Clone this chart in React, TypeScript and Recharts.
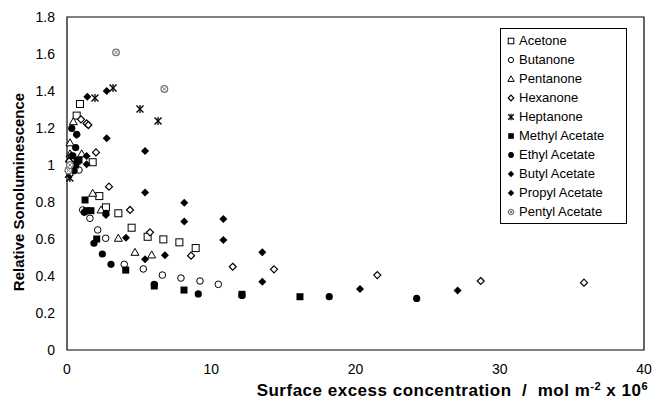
import React from "react";
import {
  ScatterChart,
  Scatter,
  XAxis,
  YAxis,
  ReferenceArea,
} from "recharts";

type Pt = { x: number; y: number };

const acetone: Pt[] = [
  { x: 0.3, y: 1.03 }, { x: 0.55, y: 1.0 }, { x: 0.67, y: 1.267 }, { x: 0.9, y: 1.33 },
  { x: 1.78, y: 1.015 }, { x: 2.24, y: 0.832 }, { x: 2.7, y: 0.771 }, { x: 3.56, y: 0.739 },
  { x: 4.48, y: 0.661 }, { x: 5.59, y: 0.612 }, { x: 6.68, y: 0.598 }, { x: 7.79, y: 0.582 },
  { x: 8.92, y: 0.551 },
];
const butanone: Pt[] = [
  { x: 0.2, y: 0.98 }, { x: 0.5, y: 1.0 }, { x: 0.83, y: 0.973 }, { x: 1.09, y: 0.757 },
  { x: 1.59, y: 0.712 }, { x: 2.13, y: 0.649 }, { x: 2.68, y: 0.604 }, { x: 3.97, y: 0.463 },
  { x: 5.29, y: 0.438 }, { x: 6.61, y: 0.405 }, { x: 7.9, y: 0.389 }, { x: 9.22, y: 0.373 },
  { x: 10.49, y: 0.355 },
];
const pentanone: Pt[] = [
  { x: 0.21, y: 1.06 }, { x: 0.21, y: 1.12 }, { x: 0.44, y: 1.234 }, { x: 1.02, y: 1.06 },
  { x: 1.78, y: 0.847 }, { x: 2.36, y: 0.757 }, { x: 3.56, y: 0.604 }, { x: 4.71, y: 0.528 },
  { x: 5.87, y: 0.514 },
];
const hexanone: Pt[] = [
  { x: 0.15, y: 1.02 }, { x: 0.3, y: 1.05 }, { x: 0.97, y: 1.247 }, { x: 1.36, y: 1.225 },
  { x: 1.48, y: 1.216 }, { x: 2.01, y: 1.068 }, { x: 2.91, y: 0.883 }, { x: 4.37, y: 0.757 },
  { x: 5.75, y: 0.636 }, { x: 8.6, y: 0.51 }, { x: 11.49, y: 0.45 }, { x: 14.35, y: 0.436 },
  { x: 21.51, y: 0.405 }, { x: 28.68, y: 0.373 }, { x: 35.84, y: 0.364 },
];
const heptanone: Pt[] = [
  { x: 0.1, y: 0.95 }, { x: 0.2, y: 0.93 }, { x: 0.15, y: 1.0 }, { x: 1.94, y: 1.362 },
  { x: 3.19, y: 1.416 }, { x: 5.06, y: 1.303 }, { x: 6.31, y: 1.238 },
];
const methylAcetate: Pt[] = [
  { x: 0.6, y: 1.0 }, { x: 0.7, y: 1.02 }, { x: 0.83, y: 1.027 }, { x: 1.25, y: 0.811 },
  { x: 1.36, y: 0.753 }, { x: 1.66, y: 0.753 }, { x: 2.06, y: 0.6 }, { x: 4.07, y: 0.432 },
  { x: 6.05, y: 0.346 }, { x: 8.11, y: 0.324 }, { x: 12.13, y: 0.301 }, { x: 16.15, y: 0.288 },
];
const ethylAcetate: Pt[] = [
  { x: 0.33, y: 1.198 }, { x: 0.67, y: 1.166 }, { x: 0.6, y: 1.094 }, { x: 0.4, y: 1.05 },
  { x: 0.5, y: 0.97 }, { x: 1.2, y: 0.744 }, { x: 2.7, y: 0.739 }, { x: 1.87, y: 0.577 },
  { x: 2.45, y: 0.519 }, { x: 3.05, y: 0.463 }, { x: 6.05, y: 0.355 }, { x: 9.1, y: 0.303 },
  { x: 12.13, y: 0.295 }, { x: 18.18, y: 0.288 }, { x: 24.24, y: 0.279 },
];
const butylAcetate: Pt[] = [
  { x: 0.67, y: 1.162 }, { x: 1.41, y: 1.369 }, { x: 2.75, y: 1.4 }, { x: 2.75, y: 1.144 },
  { x: 5.41, y: 1.076 }, { x: 8.13, y: 0.796 }, { x: 10.84, y: 0.708 }, { x: 13.54, y: 0.528 },
];
const propylAcetate: Pt[] = [
  { x: 1.36, y: 1.049 }, { x: 1.36, y: 1.004 }, { x: 2.7, y: 0.73 }, { x: 4.09, y: 0.607 },
  { x: 5.41, y: 0.852 }, { x: 5.41, y: 0.49 }, { x: 6.79, y: 0.512 }, { x: 8.13, y: 0.694 },
  { x: 10.84, y: 0.595 }, { x: 13.54, y: 0.369 }, { x: 20.31, y: 0.33 }, { x: 27.08, y: 0.321 },
];
const pentylAcetate: Pt[] = [
  { x: 0.1, y: 0.97 }, { x: 0.2, y: 1.0 }, { x: 3.4, y: 1.609 }, { x: 6.75, y: 1.411 },
];

const xTicks = [0, 10, 20, 30, 40];
const yTicks = [0, 0.2, 0.4, 0.6, 0.8, 1, 1.2, 1.4, 1.6, 1.8];

type Kind = "sq" | "circ" | "tri" | "dia" | "star" | "fsq" | "fcirc" | "fdia" | "fdia2" | "pent";

const drawMarker = (kind: Kind, cx: number, cy: number, s = 1) => {
  switch (kind) {
    case "sq":
      return <rect x={cx - 3.5 * s} y={cy - 3.5 * s} width={7 * s} height={7 * s} fill="#fff" stroke="#000" strokeWidth={1} />;
    case "circ":
      return <circle cx={cx} cy={cy} r={3.3 * s} fill="#fff" stroke="#000" strokeWidth={1} />;
    case "tri":
      return (
        <polygon
          points={`${cx},${cy - 4 * s} ${cx + 4 * s},${cy + 3 * s} ${cx - 4 * s},${cy + 3 * s}`}
          fill="#fff" stroke="#000" strokeWidth={1}
        />
      );
    case "dia":
      return (
        <polygon
          points={`${cx},${cy - 3.5 * s} ${cx + 3.5 * s},${cy} ${cx},${cy + 3.5 * s} ${cx - 3.5 * s},${cy}`}
          fill="#fff" stroke="#000" strokeWidth={1.2}
        />
      );
    case "star":
      return (
        <g stroke="#000" strokeWidth={1.3}>
          <line x1={cx - 3.5 * s} y1={cy - 3.5 * s} x2={cx + 3.5 * s} y2={cy + 3.5 * s} />
          <line x1={cx - 3.5 * s} y1={cy + 3.5 * s} x2={cx + 3.5 * s} y2={cy - 3.5 * s} />
          <line x1={cx} y1={cy - 4 * s} x2={cx} y2={cy + 4 * s} />
        </g>
      );
    case "fsq":
      return <rect x={cx - 3.5 * s} y={cy - 3.5 * s} width={7 * s} height={7 * s} fill="#000" />;
    case "fcirc":
      return <circle cx={cx} cy={cy} r={3.6 * s} fill="#000" />;
    case "fdia":
    case "fdia2":
      return (
        <polygon
          points={`${cx},${cy - 4 * s} ${cx + 4 * s},${cy} ${cx},${cy + 4 * s} ${cx - 4 * s},${cy}`}
          fill="#000"
        />
      );
    case "pent":
      return (
        <g>
          <circle cx={cx} cy={cy} r={3.3 * s} fill="#fff" stroke="#777" strokeWidth={1.3} />
          <line x1={cx - 1.8 * s} y1={cy - 1.8 * s} x2={cx + 1.8 * s} y2={cy + 1.8 * s} stroke="#777" strokeWidth={1} />
          <line x1={cx - 1.8 * s} y1={cy + 1.8 * s} x2={cx + 1.8 * s} y2={cy - 1.8 * s} stroke="#777" strokeWidth={1} />
        </g>
      );
  }
};

const seriesList: { name: string; data: Pt[]; kind: Kind }[] = [
  { name: "Acetone", data: acetone, kind: "sq" },
  { name: "Butanone", data: butanone, kind: "circ" },
  { name: "Pentanone", data: pentanone, kind: "tri" },
  { name: "Hexanone", data: hexanone, kind: "dia" },
  { name: "Heptanone", data: heptanone, kind: "star" },
  { name: "Methyl Acetate", data: methylAcetate, kind: "fsq" },
  { name: "Ethyl Acetate", data: ethylAcetate, kind: "fcirc" },
  { name: "Butyl Acetate", data: butylAcetate, kind: "fdia" },
  { name: "Propyl Acetate", data: propylAcetate, kind: "fdia2" },
  { name: "Pentyl Acetate", data: pentylAcetate, kind: "pent" },
];

const FONT = "Arial, 'Liberation Sans', sans-serif";

const LegendBox = () => (
  <div
    style={{
      position: "absolute",
      left: 500,
      top: 28,
      width: 127,
      boxSizing: "border-box",
      border: "1px solid #000",
      background: "#fff",
      padding: "2px 2px 2px 5px",
      fontFamily: FONT,
      fontSize: 13,
      color: "#000",
    }}
  >
    {seriesList.map((s) => (
      <div key={s.name} style={{ display: "flex", alignItems: "center", height: 19 }}>
        <svg width={10} height={10} style={{ marginRight: 3 }}>
          {drawMarker(s.kind, 5, 5, 0.8)}
        </svg>
        <span>{s.name}</span>
      </div>
    ))}
  </div>
);

const XLabel = (props: any) => {
  const vb = props.viewBox || {};
  const right = (vb.x || 0) + (vb.width || 0) + 4;
  return (
    <text x={right} y={396} textAnchor="end" fontFamily={FONT} fontSize={17} fontWeight="bold" letterSpacing={0.5} fill="#000">
      Surface excess concentration{"\u00a0\u00a0/\u00a0\u00a0"}mol m
      <tspan dy={-6} fontSize={11}>-2</tspan>
      <tspan dy={6}> x 10</tspan>
      <tspan dy={-6} fontSize={11}>6</tspan>
    </text>
  );
};

const YLabel = () => (
  <text
    x={18}
    y={192}
    transform="rotate(-90 18 192)"
    textAnchor="middle"
    dominantBaseline="central"
    fontFamily={FONT}
    fontSize={15}
    fontWeight="bold"
    fill="#000"
  >
    Relative Sonoluminescence
  </text>
);

export default function App() {
  return (
    <div style={{ position: "absolute", left: 0, top: 0, width: 654, height: 402, background: "#fff" }}>
      <ScatterChart width={654} height={402} margin={{ top: 17, right: 10, bottom: 22, left: 17 }}>
        <XAxis
          type="number"
          dataKey="x"
          domain={[0, 40]}
          ticks={xTicks}
          tickLine={false}
          axisLine={false}
          height={30}
          tick={{ fill: "#000", fontSize: 14, fontFamily: FONT }}
          tickMargin={8}
          label={<XLabel />}
        />
        <YAxis
          type="number"
          dataKey="y"
          domain={[0, 1.8]}
          ticks={yTicks}
          tickLine={false}
          axisLine={false}
          width={50}
          tick={{ fill: "#000", fontSize: 14, fontFamily: FONT }}
          tickMargin={6}
          label={<YLabel />}
        />
        <ReferenceArea x1={0} x2={40} y1={0} y2={1.8} fill="none" stroke="#000" strokeWidth={1.2} ifOverflow="visible" />
        {seriesList.map((s) => (
          <Scatter
            key={s.name}
            name={s.name}
            data={s.data}
            isAnimationActive={false}
            shape={(p: any) => drawMarker(s.kind, p.cx, p.cy)}
          />
        ))}
      </ScatterChart>
      <LegendBox />
    </div>
  );
}
